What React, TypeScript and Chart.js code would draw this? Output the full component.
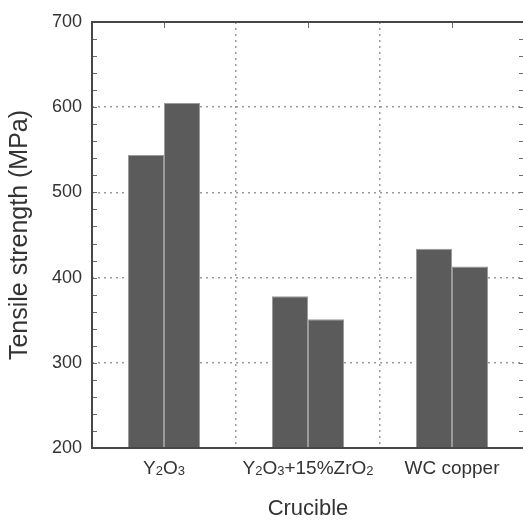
import React, { useEffect, useRef } from "react";
import { Chart, registerables } from "chart.js";

Chart.register(...registerables);

// Tensile strength of castings, two samples per crucible type
const crucibles = ["Y2O3", "Y2O3+15%ZrO2", "WC copper"];
const sampleA = [544, 378, 434];
const sampleB = [605, 351, 413];
const yMin = 200;
const yMax = 700;
const yStep = 100;
const minorStep = 20;
const yTitle = "Tensile strength (MPa)";
const xTitle = "Crucible";

const FONT = '"Liberation Sans", Arial, Helvetica, sans-serif';
const TEXT = "#333333";
const BAR = "#5b5b5b";
const BAR_EDGE = "#9a9a9a";
const FRAME = "#474747";
const GRID = "#9a9a9a";

// split a formula label into normal / subscript runs (digits after a letter)
function formulaRuns(label: string) {
  const runs: { text: string; sub: boolean }[] = [];
  let prevLetterOrSub = false;
  for (const ch of label) {
    const isDigit = /[0-9]/.test(ch);
    const sub = isDigit && prevLetterOrSub;
    const last = runs[runs.length - 1];
    if (last && last.sub === sub) last.text += ch;
    else runs.push({ text: ch, sub });
    prevLetterOrSub = /[A-Za-z]/.test(ch) || sub;
  }
  return runs;
}

const framePlugin = {
  id: "frameAndTicks",
  afterDatasetsDraw(chart: any) {
    const { ctx, chartArea } = chart;
    const { left, right, top, bottom } = chartArea;
    const y = chart.scales.y;
    const x = chart.scales.x;
    ctx.save();
    // inward minor ticks on left and right edges
    ctx.strokeStyle = "#6a6a6a";
    ctx.lineWidth = 1;
    ctx.beginPath();
    for (let v = yMin + minorStep; v < yMax; v += minorStep) {
      const py = Math.round(y.getPixelForValue(v)) + 0.5;
      ctx.moveTo(left, py);
      ctx.lineTo(left + 5, py);
      ctx.moveTo(right, py);
      ctx.lineTo(right - 5, py);
    }
    // ticks on the top edge at category centres
    crucibles.forEach((_, i) => {
      const px = Math.round(x.getPixelForValue(i)) + 0.5;
      ctx.moveTo(px, top);
      ctx.lineTo(px, top + 6);
    });
    ctx.stroke();
    // outer frame
    ctx.strokeStyle = FRAME;
    ctx.lineWidth = 2;
    ctx.strokeRect(left, top, right - left, bottom - top);
    ctx.restore();
  },
  afterDraw(chart: any) {
    const { ctx, chartArea } = chart;
    const x = chart.scales.x;
    const baseline = chartArea.bottom + 26;
    const mainFont = `19px ${FONT}`;
    const subFont = `13px ${FONT}`;
    ctx.save();
    ctx.fillStyle = TEXT;
    ctx.textBaseline = "alphabetic";
    ctx.textAlign = "left";
    crucibles.forEach((label, i) => {
      const runs = formulaRuns(label);
      const widths = runs.map((r) => {
        ctx.font = r.sub ? subFont : mainFont;
        return ctx.measureText(r.text).width;
      });
      const total = widths.reduce((a, b) => a + b, 0);
      let cx = x.getPixelForValue(i) - total / 2;
      runs.forEach((r, k) => {
        ctx.font = r.sub ? subFont : mainFont;
        ctx.fillText(r.text, cx, baseline + (r.sub ? 1 : 0));
        cx += widths[k];
      });
    });
    ctx.restore();
  },
};

export default function App() {
  const canvasRef = useRef<HTMLCanvasElement | null>(null);

  useEffect(() => {
    if (!canvasRef.current) return;
    const dashed = {
      color: (c: any) =>
        c.tick && (c.tick.value === yMin || c.tick.value === yMax) ? "transparent" : GRID,
      lineWidth: 1.5,
      drawTicks: false,
    };
    const chart = new Chart(canvasRef.current, {
      type: "bar",
      data: {
        labels: crucibles,
        datasets: [
          {
            label: "Sample A",
            data: sampleA,
            backgroundColor: BAR,
            borderColor: BAR_EDGE,
            borderWidth: 1,
            categoryPercentage: 0.5,
            barPercentage: 1.0,
          },
          {
            label: "Sample B",
            data: sampleB,
            backgroundColor: BAR,
            borderColor: BAR_EDGE,
            borderWidth: 1,
            categoryPercentage: 0.5,
            barPercentage: 1.0,
          },
        ],
      },
      options: {
        responsive: false,
        animation: false,
        layout: { padding: { top: 22, right: 2, left: 0, bottom: 0 } },
        plugins: {
          legend: { display: false },
          tooltip: { enabled: false },
        },
        scales: {
          x: {
            offset: true,
            grid: {
              offset: true,
              color: GRID,
              lineWidth: 1.5,
              drawTicks: false,
            },
            border: { display: false, dash: [2, 4] },
            ticks: { display: false },
            title: {
              display: true,
              text: xTitle,
              color: TEXT,
              font: { family: FONT, size: 22 },
              padding: { top: 0, bottom: 0 },
            },
            afterFit: (scale: any) => {
              scale.height = 74;
            },
          },
          y: {
            min: yMin,
            max: yMax,
            grid: dashed,
            border: { display: false, dash: [2, 4] },
            ticks: {
              stepSize: yStep,
              padding: 10,
              color: TEXT,
              font: { family: FONT, size: 18 },
            },
            title: {
              display: true,
              text: yTitle,
              color: TEXT,
              font: { family: FONT, size: 25 },
              padding: { top: 5, bottom: 0 },
            },
            afterFit: (scale: any) => {
              scale.width = 92;
            },
          },
        },
      },
      plugins: [framePlugin],
    });
    return () => chart.destroy();
  }, []);

  return (
    <div
      style={{
        position: "fixed",
        left: 0,
        top: 0,
        width: 523,
        height: 522,
        overflow: "hidden",
        background: "#ffffff",
      }}
    >
      <canvas ref={canvasRef} width={526} height={522} />
    </div>
  );
}
